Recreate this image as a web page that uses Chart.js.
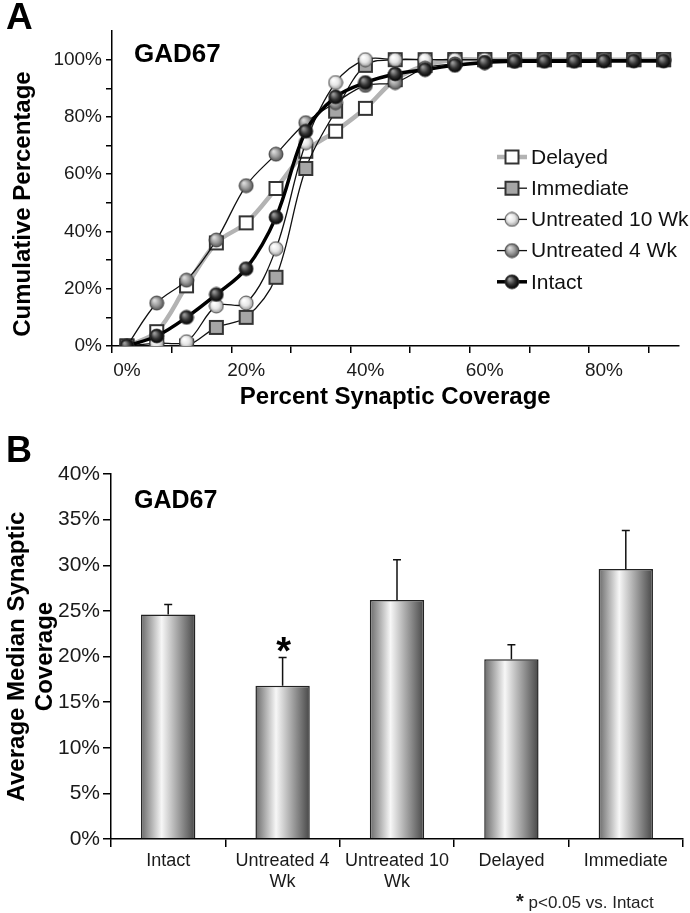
<!DOCTYPE html>
<html>
<head>
<meta charset="utf-8">
<script src="https://cdn.jsdelivr.net/npm/chart.js@4.4.1/dist/chart.umd.min.js"></script>
<style>
  html, body { margin: 0; padding: 0; background: #fff; }
  body { width: 690px; height: 913px; position: relative; overflow: hidden; font-family: 'Liberation Sans', Arial, sans-serif; }
  canvas { position: absolute; left: 0; }
  #chartA { top: 0; }
  #chartB { top: 440px; }
  .lbl { position: absolute; color: #000; white-space: nowrap; line-height: 1; }
  .ytitle { transform: translate(-50%, -50%) rotate(-90deg); font-size: 24px; font-weight: bold; }
</style>
</head>
<body>
<canvas id="chartA" width="690" height="420"></canvas>
<canvas id="chartB" width="690" height="473"></canvas>
<div class="lbl" style="left:6px;top:-2px;font-size:37px;font-weight:bold;">A</div>
<div class="lbl" style="left:134px;top:40px;font-size:26px;font-weight:bold;">GAD67</div>
<div class="lbl ytitle" style="left:22px;top:204px;">Cumulative Percentage</div>
<div class="lbl" style="left:6px;top:432px;font-size:36px;font-weight:bold;">B</div>
<div class="lbl" style="left:134px;top:487px;font-size:25px;font-weight:bold;">GAD67</div>
<div class="lbl" style="left:516px;top:891px;font-size:17px;color:#222;"><span style="font-size:20px;font-weight:bold;">*</span> p&lt;0.05 vs. Intact</div>

<script>
// Panel A: cumulative distributions
const xCats = ['0%', '5%', '10%', '15%', '20%', '25%', '30%', '35%', '40%', '45%',
               '50%', '55%', '60%', '65%', '70%', '75%', '80%', '85%', '90%'];
const delayed     = [0, 5, 21, 36, 43, 55, 68, 75, 83, 93, 98, 100, 100, 100, 100, 100, 100, 100, 100];
const immediate   = [0, 0, 0, 6.5, 10, 24, 62, 82, 98, 100, 100, 100, 100, 100, 100, 100, 100, 100, 100];
const untreated10 = [0, 1, 1.5, 14, 15, 34, 71, 92, 100, 100, 100, 100, 100, 100, 100, 100, 100, 100, 100];
const untreated4  = [0, 15, 23, 37, 56, 67, 78, 85, 91, 92, 97, 98.5, 99, 99.5, 100, 100, 100, 100, 100];
const intact      = [0, 3.5, 10, 18, 27, 45, 75, 87, 92, 95, 96.5, 98, 99, 99.4, 99.4, 99.4, 99.5, 99.5, 99.5];

// Panel B: medians
const catsB  = ['Intact', ['Untreated 4', 'Wk'], ['Untreated 10', 'Wk'], 'Delayed', 'Immediate'];
const meansB = [24.6, 16.8, 26.2, 19.7, 29.6];
const errB   = [1.1, 3.1, 4.4, 1.6, 4.2];
const sigB   = [false, true, false, false, false];

Chart.defaults.font.family = "'Liberation Sans', Arial, sans-serif";
Chart.defaults.color = '#1a1a1a';

// markers
function square(size, fill) {
    const c = document.createElement('canvas');
    c.width = c.height = size + 2;
    const g = c.getContext('2d');
    g.fillStyle = fill;
    g.strokeStyle = '#333';
    g.lineWidth = 2;
    g.fillRect(2, 2, size - 2, size - 2);
    g.strokeRect(2, 2, size - 2, size - 2);
    return c;
}
function sphere(r, light, mid, dark) {
    const c = document.createElement('canvas');
    const s = Math.ceil(r * 2 + 2);
    c.width = c.height = s;
    const g = c.getContext('2d');
    const m = s / 2;
    const grd = g.createRadialGradient(m - r * 0.35, m - r * 0.4, r * 0.1, m, m, r);
    grd.addColorStop(0, light);
    grd.addColorStop(0.55, mid);
    grd.addColorStop(1, dark);
    g.beginPath();
    g.arc(m, m, r, 0, Math.PI * 2);
    g.fillStyle = grd;
    g.fill();
    g.lineWidth = 0.8;
    g.strokeStyle = '#333';
    g.stroke();
    return c;
}

const line = (label, data, color, width, marker, order) => ({
    label, data, order,
    borderColor: color,
    borderWidth: width,
    pointStyle: marker,
    pointRadius: 7,
    pointHoverRadius: 7,
    tension: 0.35,
    fill: false,
});

const datasetsA = [
    line('Delayed', delayed, '#b3b3b3', 4.5, square(15, '#ffffff'), 5),
    line('Immediate', immediate, '#111', 1.3, square(15, '#a6a6a6'), 4),
    line('Untreated 10 Wk', untreated10, '#111', 1.3, sphere(7, '#ffffff', '#e6e6e6', '#9a9a9a'), 3),
    line('Untreated 4 Wk', untreated4, '#111', 1.3, sphere(7, '#dcdcdc', '#9a9a9a', '#555'), 2),
    line('Intact', intact, '#000', 3.5, sphere(7, '#9a9a9a', '#333', '#000'), 1),
];

// legend drawn inside the plot
const legendA = {
    id: 'legendA',
    afterDraw(chart) {
        const ctx = chart.ctx;
        ctx.save();
        chart.data.datasets.forEach((ds, i) => {
            const y = 157 + i * 31.2;
            ctx.strokeStyle = ds.borderColor;
            ctx.lineWidth = ds.borderWidth;
            ctx.beginPath();
            ctx.moveTo(497, y);
            ctx.lineTo(527, y);
            ctx.stroke();
            const m = ds.pointStyle;
            ctx.drawImage(m, 512 - m.width / 2, y - m.height / 2);
            ctx.fillStyle = '#111';
            ctx.font = "21px 'Liberation Sans', Arial, sans-serif";
            ctx.textBaseline = 'middle';
            ctx.fillText(ds.label, 531, y + 1);
        });
        ctx.restore();
    }
};

new Chart(document.getElementById('chartA'), {
    type: 'line',
    data: { labels: xCats, datasets: datasetsA },
    options: {
        responsive: false,
        animation: false,
        devicePixelRatio: 1,
        layout: { padding: { top: 31, right: 3, left: 0, bottom: 0 } },
        plugins: { legend: { display: false }, tooltip: { enabled: false } },
        scales: {
            x: {
                offset: true,
                grid: {
                    offset: true,
                    drawOnChartArea: false,
                    tickLength: 7,
                    lineWidth: 1.5,
                    tickColor: c => c.index % 2 === 0 ? '#000' : 'rgba(0,0,0,0)',
                },
                border: { color: '#000', width: 1.5 },
                ticks: {
                    autoSkip: false,
                    maxRotation: 0,
                    padding: 6,
                    font: { size: 19 },
                    callback: (v, i) => i % 4 === 0 ? xCats[i] : '',
                },
                title: {
                    display: true,
                    text: 'Percent Synaptic Coverage',
                    color: '#000',
                    font: { size: 24, weight: 'bold' },
                    padding: { top: 0, bottom: 8 },
                },
                afterFit: s => { s.height = 74; },
            },
            y: {
                min: 0,
                max: 110,
                grid: {
                    drawOnChartArea: false,
                    tickLength: 6,
                    lineWidth: 1.5,
                    tickColor: c => (c.tick && c.tick.value > 100) ? 'rgba(0,0,0,0)' : '#000',
                },
                border: { color: '#000', width: 1.5 },
                ticks: {
                    stepSize: 10,
                    padding: 4,
                    font: { size: 19 },
                    callback: v => (v % 20 === 0 && v <= 100) ? v + '%' : '',
                },
                afterFit: s => { s.width = 112; },
            },
        },
    },
    plugins: [legendA],
});

// error bars + significance mark
const errorBars = {
    id: 'errorBars',
    afterDatasetsDraw(chart) {
        const { ctx, scales: { x, y } } = chart;
        ctx.save();
        ctx.strokeStyle = '#111';
        ctx.lineWidth = 1.5;
        meansB.forEach((m, i) => {
            const px = x.getPixelForValue(i);
            const y0 = y.getPixelForValue(m);
            const y1 = y.getPixelForValue(m + errB[i]);
            ctx.beginPath();
            ctx.moveTo(px, y0);
            ctx.lineTo(px, y1);
            ctx.moveTo(px - 4, y1);
            ctx.lineTo(px + 4, y1);
            ctx.stroke();
            if (sigB[i]) {
                ctx.fillStyle = '#000';
                ctx.font = "bold 38px 'Liberation Sans', Arial, sans-serif";
                ctx.textAlign = 'center';
                ctx.textBaseline = 'alphabetic';
                ctx.fillText('*', px + 1, y1 + 7);
            }
        });
        ctx.restore();
    }
};

const barPct = 0.475;

new Chart(document.getElementById('chartB'), {
    type: 'bar',
    data: {
        labels: catsB,
        datasets: [{
            label: 'Average median',
            data: meansB,
            categoryPercentage: 1,
            barPercentage: barPct,
            borderColor: '#222',
            borderWidth: 1.5,
            backgroundColor: c => {
                const ch = c.chart;
                const xs = ch.scales.x;
                if (!xs || c.dataIndex === undefined) return '#cccccc';
                const cx = xs.getPixelForValue(c.dataIndex);
                const w = xs.width / catsB.length * barPct;
                if (!Number.isFinite(cx) || !Number.isFinite(w) || w <= 0) return '#cccccc';
                const g = ch.ctx.createLinearGradient(cx - w / 2, 0, cx + w / 2, 0);
                g.addColorStop(0, '#6a6a6a');
                g.addColorStop(0.38, '#f7f7f7');
                g.addColorStop(1, '#474747');
                return g;
            },
        }],
    },
    options: {
        responsive: false,
        animation: false,
        devicePixelRatio: 1,
        layout: { padding: { top: 34, right: 7, left: 0, bottom: 0 } },
        plugins: { legend: { display: false }, tooltip: { enabled: false } },
        scales: {
            x: {
                offset: true,
                grid: { offset: true, drawOnChartArea: false, tickLength: 8, lineWidth: 1.5, tickColor: '#000' },
                border: { color: '#000', width: 1.5 },
                ticks: {
                    autoSkip: false,
                    maxRotation: 0,
                    padding: 4,
                    font: { size: 18, lineHeight: 1.15 },
                },
                afterFit: s => { s.height = 74; },
            },
            y: {
                min: 0,
                max: 40,
                grid: { drawOnChartArea: false, tickLength: 8, lineWidth: 1.5, tickColor: '#000' },
                border: { color: '#000', width: 1.5 },
                ticks: {
                    stepSize: 5,
                    padding: 3,
                    font: { size: 21 },
                    callback: v => v + '%',
                },
                title: {
                    display: true,
                    text: ['Average Median Synaptic', 'Coverage'],
                    color: '#000',
                    font: { size: 24, weight: 'bold', lineHeight: 1.15 },
                    padding: { top: 4, bottom: 0 },
                },
                afterFit: s => { s.width = 111; },
            },
        },
    },
    plugins: [errorBars],
});
</script>
</body>
</html>
